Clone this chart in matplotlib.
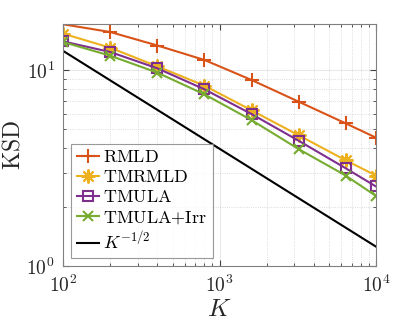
import matplotlib
matplotlib.use("Agg")
import matplotlib.pyplot as plt
from matplotlib.ticker import LogLocator, NullFormatter

plt.rcParams['mathtext.fontset'] = 'cm'
plt.rcParams['font.family'] = 'serif'
plt.rcParams['font.serif'] = ['cmr10', 'DejaVu Serif']
plt.rcParams['axes.formatter.use_mathtext'] = True

# data
K = [100, 200, 400, 800, 1600, 3200, 6400, 10000]
rmld = [17.2, 15.7, 13.4, 11.3, 8.93, 6.92, 5.36, 4.53]
tmrmld = [15.4, 13.05, 10.48, 8.35, 6.25, 4.66, 3.47, 2.90]
tmula = [14.06, 12.41, 10.24, 8.0, 5.98, 4.37, 3.16, 2.55]
tmula_irr = [13.95, 11.88, 9.73, 7.54, 5.57, 3.96, 2.90, 2.28]
ref_K = [100, 10000]
ref_val = [12.56, 1.256]

labels = [r'$\mathrm{RMLD}$', r'$\mathrm{TMRMLD}$', r'$\mathrm{TMULA}$',
          r'$\mathrm{TMULA{+}Irr}$', r'$K^{-1/2}$']
colors = ['#D95319', '#EDB120', '#7E2F8E', '#77AC30', 'k']

fig = plt.figure(figsize=(4.15, 3.24), dpi=100)
ax = fig.add_axes([0.1525, 0.179, 0.7535, 0.746])

ax.plot(K, rmld, '-+', color=colors[0], lw=1.5, ms=10, mew=1.5, label=labels[0])
ax.plot(K, tmrmld, '-', marker=(8, 2, 0), color=colors[1], lw=1.5, ms=10, mew=1.5, label=labels[1])
ax.plot(K, tmula, '-s', color=colors[2], lw=1.5, ms=7, mew=1.5, mfc='none', label=labels[2])
ax.plot(K, tmula_irr, '-x', color=colors[3], lw=1.5, ms=7, mew=1.5, label=labels[3])
ax.plot(ref_K, ref_val, '-', color=colors[4], lw=1.5, label=labels[4])

ax.set_xscale('log')
ax.set_yscale('log')
ax.set_xlim(100, 10000)
ax.set_ylim(1, 17.2)
ax.set_xticks([100, 1000, 10000])
ax.set_yticks([1, 10])
ax.xaxis.set_minor_locator(LogLocator(base=10, subs=range(2, 10)))
ax.yaxis.set_minor_locator(LogLocator(base=10, subs=range(2, 10)))
ax.xaxis.set_minor_formatter(NullFormatter())
ax.yaxis.set_minor_formatter(NullFormatter())

ax.grid(True, which='major', color='#e3e3e3', lw=0.6, ls='-')
ax.grid(True, which='minor', color='#d0d0d0', lw=0.6, ls=':')
ax.set_axisbelow(True)

for s in ax.spines.values():
    s.set_color('#808080')
    s.set_linewidth(0.8)
ax.tick_params(which='both', direction='in', top=True, right=True, colors='#404040',
               labelcolor='#262626', labelsize=14, pad=6)
ax.tick_params(which='major', length=4)
ax.tick_params(which='minor', length=2)

ax.set_xlabel(r'$K$', fontsize=18, color='#262626', labelpad=2)
ax.set_ylabel(r'$\mathrm{KSD}$', fontsize=17, color='#262626', labelpad=1)

leg = ax.legend(loc='lower left', fontsize=13, frameon=True, fancybox=False,
                handlelength=1.25, handletextpad=0.2, labelspacing=0.22,
                borderpad=0.3, borderaxespad=0.45)
leg.get_frame().set_edgecolor('#808080')
leg.get_frame().set_linewidth(0.8)

fig.savefig('out.png', dpi=100)
